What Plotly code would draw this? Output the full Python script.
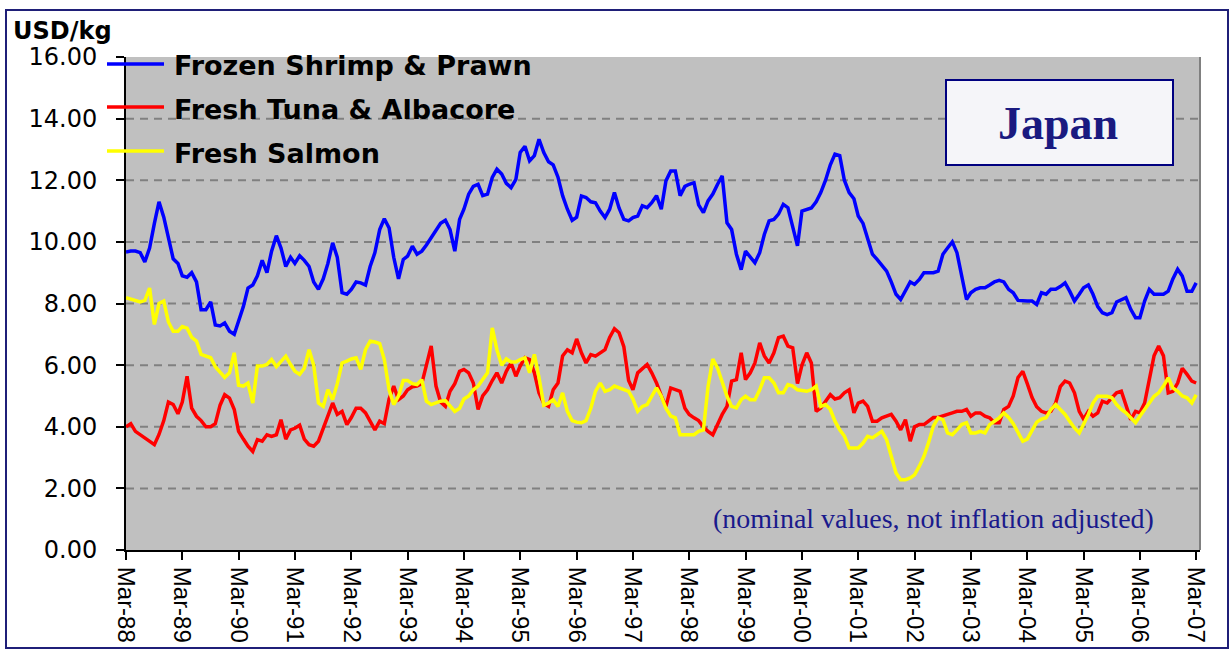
import pandas as pd
import plotly.graph_objects as go

# ---------------- data (monthly, from Mar-1988) ----------------
shrimp = [
    9.67, 9.70, 9.70, 9.65, 9.35, 9.80, 10.60, 11.30, 10.80, 10.10,
    9.45, 9.30, 8.90, 8.85, 9.00, 8.70, 7.80, 7.80, 8.05, 7.30,
    7.27, 7.37, 7.10, 7.00, 7.40, 7.90, 8.50, 8.60, 8.90, 9.40,
    9.00, 9.70, 10.20, 9.80, 9.20, 9.50, 9.30, 9.55, 9.40, 9.20,
    8.70, 8.46, 8.80, 9.30, 9.97, 9.50, 8.35, 8.30, 8.46, 8.70,
    8.67, 8.60, 9.20, 9.65, 10.40, 10.75, 10.45, 9.50, 8.80, 9.43,
    9.54, 9.86, 9.60, 9.70, 9.90, 10.15, 10.35, 10.60, 10.70, 10.40,
    9.70, 10.73, 11.06, 11.55, 11.80, 11.87, 11.50, 11.55, 12.09, 12.36,
    12.20, 11.90, 11.76, 12.03, 12.90, 13.10, 12.63, 12.80, 13.33, 12.90,
    12.60, 12.50, 12.10, 11.50, 11.06, 10.70, 10.80, 11.49, 11.44, 11.30,
    11.27, 11.00, 10.79, 11.06, 11.60, 11.10, 10.73, 10.68, 10.79, 10.84,
    11.17, 11.11, 11.27, 11.50, 11.06, 11.98, 12.30, 12.30, 11.50, 11.80,
    11.87, 11.92, 11.20, 10.95, 11.33, 11.55, 11.87, 12.14, 10.62, 10.40,
    9.60, 9.10, 9.70, 9.50, 9.32, 9.65, 10.24, 10.68, 10.73, 10.90,
    11.22, 11.11, 10.50, 9.87, 11.00, 11.06, 11.10, 11.30, 11.60, 12.00,
    12.50, 12.85, 12.80, 12.00, 11.60, 11.40, 10.84, 10.60, 10.08, 9.60,
    9.43, 9.22, 9.05, 8.70, 8.30, 8.13, 8.40, 8.70, 8.62, 8.78,
    9.00, 9.00, 9.00, 9.05, 9.60, 9.80, 10.00, 9.65, 8.90, 8.13,
    8.35, 8.46, 8.51, 8.51, 8.60, 8.70, 8.75, 8.70, 8.46, 8.35,
    8.10, 8.08, 8.08, 8.08, 7.97, 8.35, 8.30, 8.46, 8.46, 8.55,
    8.67, 8.40, 8.08, 8.30, 8.51, 8.60, 8.30, 7.90, 7.70, 7.64,
    7.70, 8.05, 8.12, 8.19, 7.81, 7.54, 7.54, 8.08, 8.46, 8.30,
    8.30, 8.30, 8.40, 8.80, 9.11, 8.89, 8.40, 8.40, 8.67,
]

tuna = [
    4.00, 4.10, 3.85, 3.75, 3.65, 3.55, 3.42, 3.75, 4.20, 4.80,
    4.72, 4.42, 4.80, 5.64, 4.60, 4.34, 4.20, 4.00, 4.00, 4.10,
    4.70, 5.04, 4.93, 4.56, 3.85, 3.60, 3.37, 3.20, 3.58, 3.53,
    3.74, 3.69, 3.74, 4.23, 3.60, 3.90, 3.95, 4.05, 3.60, 3.42,
    3.37, 3.53, 3.96, 4.34, 4.77, 4.40, 4.50, 4.07, 4.30, 4.60,
    4.60, 4.45, 4.15, 3.90, 4.18, 4.10, 4.90, 5.32, 4.88, 5.00,
    5.20, 5.30, 5.32, 5.40, 6.00, 6.62, 5.32, 4.80, 4.66, 5.15,
    5.40, 5.80, 5.86, 5.75, 5.42, 4.56, 5.00, 5.20, 5.50, 5.75,
    5.42, 5.80, 6.07, 5.64, 5.97, 6.24, 6.18, 5.75, 5.10, 4.75,
    4.66, 5.20, 5.42, 6.30, 6.50, 6.40, 6.85, 6.40, 6.07, 6.34,
    6.29, 6.40, 6.50, 6.90, 7.18, 7.05, 6.60, 5.50, 5.20, 5.75,
    5.90, 6.02, 5.75, 5.42, 5.00, 4.66, 5.26, 5.20, 5.15, 4.60,
    4.40, 4.29, 4.20, 4.00, 3.85, 3.74, 4.10, 4.40, 4.66, 5.48,
    5.53, 6.40, 5.53, 5.75, 6.07, 6.72, 6.30, 6.07, 6.40, 6.89,
    6.94, 6.62, 6.56, 5.40, 6.00, 6.40, 6.07, 4.50, 4.61, 4.83,
    5.04, 4.90, 4.94, 5.10, 5.20, 4.45, 4.77, 4.83, 4.66, 4.18,
    4.18, 4.29, 4.35, 4.40, 4.18, 3.90, 4.23, 3.53, 4.00, 4.07,
    4.07, 4.18, 4.30, 4.30, 4.34, 4.40, 4.45, 4.50, 4.50, 4.56,
    4.34, 4.45, 4.45, 4.34, 4.29, 4.13, 4.13, 4.56, 4.66, 5.00,
    5.60, 5.80, 5.40, 4.95, 4.65, 4.50, 4.45, 4.50, 4.77, 5.30,
    5.48, 5.42, 5.10, 4.50, 4.25, 4.50, 4.34, 4.45, 4.83, 4.77,
    4.94, 5.10, 5.15, 4.70, 4.23, 4.50, 4.45, 4.77, 5.60, 6.30,
    6.62, 6.30, 5.10, 5.15, 5.42, 5.90, 5.70, 5.48, 5.42,
]

salmon = [
    8.19, 8.15, 8.10, 8.05, 8.10, 8.50, 7.32, 8.00, 8.08, 7.40,
    7.10, 7.10, 7.25, 7.20, 6.90, 6.78, 6.35, 6.30, 6.24, 5.95,
    5.75, 5.60, 5.75, 6.40, 5.35, 5.32, 5.42, 4.77, 5.97, 5.97,
    6.02, 6.18, 5.95, 6.13, 6.29, 6.02, 5.80, 5.70, 5.90, 6.50,
    6.00, 4.77, 4.66, 5.20, 4.88, 5.40, 6.07, 6.13, 6.20, 6.24,
    5.86, 6.50, 6.78, 6.75, 6.70, 6.18, 5.20, 4.72, 5.00, 5.50,
    5.50, 5.40, 5.37, 5.53, 4.83, 4.72, 4.77, 4.83, 4.85, 4.66,
    4.50, 4.60, 4.90, 5.00, 5.20, 5.32, 5.53, 5.75, 7.21, 6.50,
    6.00, 6.20, 6.10, 6.10, 6.18, 6.24, 5.75, 6.35, 5.60, 4.70,
    4.77, 4.88, 4.66, 5.10, 4.50, 4.20, 4.15, 4.13, 4.20, 4.60,
    5.15, 5.42, 5.15, 5.20, 5.32, 5.26, 5.20, 5.15, 4.90, 4.50,
    4.66, 4.72, 4.99, 5.26, 4.99, 4.60, 4.35, 4.29, 3.74, 3.74,
    3.74, 3.74, 3.85, 3.90, 5.30, 6.20, 5.90, 5.42, 4.99, 4.66,
    4.61, 4.88, 4.99, 4.88, 4.88, 5.20, 5.59, 5.59, 5.42, 5.10,
    5.10, 5.37, 5.32, 5.20, 5.18, 5.15, 5.20, 5.32, 4.66, 4.72,
    4.56, 4.18, 3.90, 3.70, 3.31, 3.31, 3.31, 3.47, 3.69, 3.64,
    3.74, 3.85, 3.58, 3.04, 2.50, 2.28, 2.28, 2.34, 2.44, 2.72,
    3.04, 3.50, 4.02, 4.29, 4.23, 3.80, 3.74, 3.90, 4.07, 4.13,
    3.80, 3.80, 3.85, 3.80, 4.07, 4.18, 4.29, 4.45, 4.30, 4.10,
    3.80, 3.53, 3.60, 3.90, 4.15, 4.25, 4.29, 4.56, 4.72, 4.56,
    4.40, 4.18, 3.96, 3.80, 4.07, 4.40, 4.77, 4.99, 4.99, 4.99,
    4.94, 4.72, 4.56, 4.45, 4.29, 4.13, 4.34, 4.56, 4.77, 4.99,
    5.10, 5.32, 5.59, 5.26, 5.15, 5.00, 4.94, 4.77, 5.04,
]

series_names = ["Frozen Shrimp & Prawn", "Fresh Tuna & Albacore", "Fresh Salmon"]
series_colors = ["#0000FF", "#FF0000", "#FFFF00"]

tick_labels = ["Mar-88", "Mar-89", "Mar-90", "Mar-91", "Mar-92", "Mar-93", "Mar-94",
               "Mar-95", "Mar-96", "Mar-97", "Mar-98", "Mar-99", "Mar-00", "Mar-01",
               "Mar-02", "Mar-03", "Mar-04", "Mar-05", "Mar-06", "Mar-07"]
y_ticks = [0, 2, 4, 6, 8, 10, 12, 14, 16]

# ---------------- layout geometry ----------------
W, H = 1231, 650
L, R, T, B = 126, 31, 57, 100
PW, PH = W - L - R, H - T - B


def px(x):
    return (x - L) / PW


def py(y):
    return (H - B - y) / PH


fig = go.Figure()
for name, vals, col in zip(series_names, [shrimp, tuna, salmon], series_colors):
    dates = pd.date_range("1988-03-01", periods=len(vals), freq="MS")
    fig.add_trace(go.Scatter(x=dates, y=vals, mode="lines", name=name,
                             line=dict(color=col, width=3.5), showlegend=False))

tick_dates = pd.date_range("1988-03-01", periods=len(tick_labels), freq="12MS")

shapes = []
for v in y_ticks[1:-1]:
    shapes.append(dict(type="line", xref="paper", yref="y", x0=0, x1=1, y0=v, y1=v,
                       line=dict(color="#808080", width=2, dash="8px,6px"), layer="below"))
# right edge of plot area
shapes.append(dict(type="line", xref="paper", yref="paper", x0=1, x1=1, y0=0, y1=1,
                   line=dict(color="#808080", width=2)))
# legend line samples
legend_rows = [64, 107, 151]
for yy, col in zip(legend_rows, series_colors):
    shapes.append(dict(type="line", xref="paper", yref="paper", x0=px(107), x1=px(164),
                       y0=py(yy), y1=py(yy), line=dict(color=col, width=3.5)))
# Japan box
shapes.append(dict(type="rect", xref="paper", yref="paper", x0=px(946), x1=px(1173),
                   y0=py(165), y1=py(80), fillcolor="#F5F5F9",
                   line=dict(color="#000080", width=2)))
# outer frame
shapes.append(dict(type="rect", xref="paper", yref="paper", x0=px(6), x1=px(1228),
                   y0=py(648), y1=py(10), line=dict(color="#1F1F78", width=2)))

annotations = []
for yy, name in zip(legend_rows, series_names):
    annotations.append(dict(text=name, xref="paper", yref="paper", x=px(172), y=py(yy + 2),
                            xanchor="left", yanchor="middle", showarrow=False,
                            font=dict(family="DejaVu Sans", size=27, color="black", weight="bold")))
annotations.append(dict(text="USD/kg", xref="paper", yref="paper", x=px(11), y=py(31),
                        xanchor="left", yanchor="middle", showarrow=False,
                        font=dict(family="DejaVu Sans", size=24, color="black", weight="bold")))
annotations.append(dict(text="Japan", xref="paper", yref="paper", x=px(1058), y=py(124),
                        xanchor="center", yanchor="middle", showarrow=False,
                        font=dict(family="Liberation Serif", size=46, color="#1A1A80", weight="bold")))
annotations.append(dict(text="(nominal values, not inflation adjusted)", xref="paper", yref="paper",
                        x=px(933), y=py(518), xanchor="center", yanchor="middle", showarrow=False,
                        font=dict(family="Liberation Serif", size=28, color="#1A1A8C")))

fig.update_layout(
    width=W, height=H,
    margin=dict(l=L, r=R, t=T, b=B, pad=0),
    paper_bgcolor="white", plot_bgcolor="#C0C0C0",
    shapes=shapes, annotations=annotations,
    xaxis=dict(type="date", range=["1988-03-01", "2007-03-26"],
               tickvals=tick_dates, ticktext=tick_labels, tickangle=90,
               ticks="outside", ticklen=8, tickwidth=2, tickcolor="black",
               showline=True, linecolor="black", linewidth=2, showgrid=False,
               zeroline=False, automargin=False, ticklabelstandoff=2,
               tickfont=dict(family="Liberation Sans", size=24, color="black")),
    yaxis=dict(range=[0, 16], tickvals=y_ticks, tickformat=".2f",
               ticks="outside", ticklen=8, tickwidth=2, tickcolor="black",
               showline=True, linecolor="black", linewidth=2, showgrid=False,
               zeroline=False, automargin=False, ticklabelstandoff=14,
               tickfont=dict(family="DejaVu Sans", size=24, color="black")),
)

fig.write_html("out.html", config={"displayModeBar": False},
               post_script="document.body.style.margin='0';document.body.style.overflow='hidden';")
